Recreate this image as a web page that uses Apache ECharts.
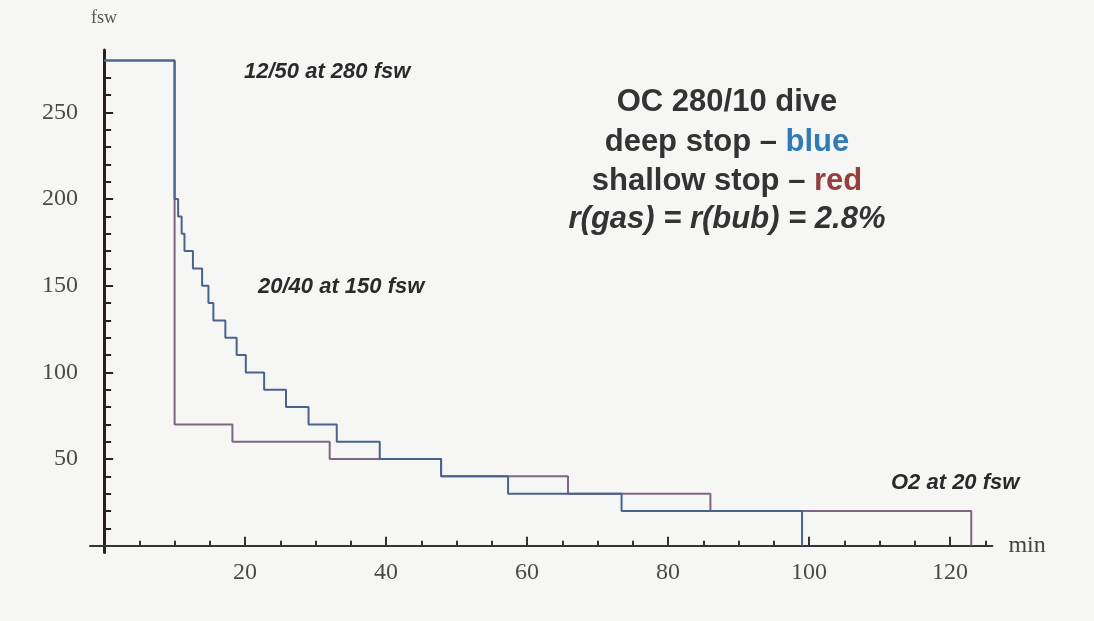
<!DOCTYPE html>
<html>
<head>
<meta charset="utf-8">
<script src="https://cdn.jsdelivr.net/npm/echarts@6/dist/echarts.min.js"></script>
<style>
html,body{margin:0;padding:0;background:#f6f6f5;}
#chart{width:1094px;height:621px;}
</style>
</head>
<body>
<div id="chart"></div>
<script>
// Deep stop profile (blue): time (min) at which each depth (fsw) begins
const deepTimes  = [0, 10, 10.5, 11, 11.4, 12.6, 13.9, 14.8, 15.5, 17.2, 18.8, 20.1, 22.7, 25.8, 29.0, 33.0, 39.1, 47.8, 57.3, 73.4, 99.0];
const deepDepths = [280, 200, 190, 180, 170, 160, 150, 140, 130, 120, 110, 100, 90, 80, 70, 60, 50, 40, 30, 20, 0];
// Shallow stop profile (red)
const shallowTimes  = [0, 10, 18.2, 32.0, 47.8, 65.8, 86.0, 123.0];
const shallowDepths = [280, 70, 60, 50, 40, 30, 20, 0];

// Tick labels / tick positions
const xLabels = [20, 40, 60, 80, 100, 120];
const xMinorTicks = [5, 10, 15, 25, 30, 35, 45, 50, 55, 65, 70, 75, 85, 90, 95, 105, 110, 115, 125];
const yLabels = [50, 100, 150, 200, 250];
const yMinorTicks = [10, 20, 30, 40, 60, 70, 80, 90, 110, 120, 130, 140, 160, 170, 180, 190, 210, 220, 230, 240, 260, 270];

const annotations = [
  {text: '12/50 at 280 fsw', x: 244, y: 72},
  {text: '20/40 at 150 fsw', x: 258, y: 287},
  {text: 'O2 at 20 fsw', x: 891, y: 483}
];

const zip = (a, b) => a.map((v, i) => [v, b[i]]);

const chart = echarts.init(document.getElementById('chart'), null, {renderer: 'canvas'});

const tickFont = {fontFamily: '"Liberation Serif"', fontSize: 24, color: '#4a4a4a'};
const XMIN = -2, XMAX = 126, YMIN = -4, YMAX = 286;

const titleFont = 'bold 31px "Liberation Sans"';
const titleFontI = 'italic bold 31px "Liberation Sans"';

const option = {
  backgroundColor: '#f6f6f5',
  animation: false,
  grid: {left: 90, right: 101.6, top: 50.1, bottom: 68.4, containLabel: false},
  xAxis: [
    {
      type: 'value', min: XMIN, max: XMAX, position: 'bottom',
      name: 'min', nameLocation: 'end', nameGap: 16,
      nameTextStyle: {fontFamily: '"Liberation Serif"', fontSize: 24, color: '#444', verticalAlign: 'middle'},
      axisLine: {show: true, onZero: true, lineStyle: {color: '#333', width: 2}},
      axisTick: {show: true, inside: true, length: 9, customValues: xLabels, lineStyle: {color: '#333', width: 2}},
      axisLabel: Object.assign({show: true, customValues: xLabels, margin: 8}, tickFont),
      splitLine: {show: false}
    },
    {
      type: 'value', min: XMIN, max: XMAX, position: 'bottom',
      axisLine: {show: false, onZero: true},
      axisTick: {show: true, inside: true, length: 5, customValues: xMinorTicks, lineStyle: {color: '#333', width: 2}},
      axisLabel: {show: false},
      splitLine: {show: false}
    }
  ],
  yAxis: [
    {
      type: 'value', min: YMIN, max: YMAX, position: 'left',
      name: 'fsw', nameLocation: 'end', nameGap: 23,
      nameTextStyle: {fontFamily: '"Liberation Serif"', fontSize: 18, color: '#555', align: 'center'},
      axisLine: {show: true, onZero: true, lineStyle: {color: '#2b1f1f', width: 3}},
      axisTick: {show: true, inside: true, length: 9, customValues: yLabels, lineStyle: {color: '#2b1f1f', width: 2}},
      axisLabel: Object.assign({show: true, customValues: yLabels, margin: 12}, tickFont),
      splitLine: {show: false}
    },
    {
      type: 'value', min: YMIN, max: YMAX, position: 'left',
      axisLine: {show: false, onZero: true},
      axisTick: {show: true, inside: true, length: 7, customValues: yMinorTicks, lineStyle: {color: '#2b1f1f', width: 2}},
      axisLabel: {show: false},
      splitLine: {show: false}
    }
  ],
  series: [
    {
      name: 'shallow stop', type: 'line', step: 'end', xAxisIndex: 0, yAxisIndex: 0,
      data: zip(shallowTimes, shallowDepths), showSymbol: false, symbol: 'none',
      lineStyle: {color: '#7c6682', width: 2}
    },
    {
      name: 'deep stop', type: 'line', step: 'end', xAxisIndex: 0, yAxisIndex: 0,
      data: zip(deepTimes, deepDepths), showSymbol: false, symbol: 'none',
      lineStyle: {color: '#48648a', width: 2}
    }
  ],
  graphic: [
    ...annotations.map(a => ({
      type: 'text', x: a.x, y: a.y, silent: true,
      style: {text: a.text, font: 'italic bold 22px "Liberation Sans"', fill: '#2a2a2a', align: 'left', verticalAlign: 'middle'}
    })),
    {
      type: 'text', x: 727, y: 102, silent: true,
      style: {text: 'OC 280/10 dive', font: titleFont, fill: '#333', align: 'center', verticalAlign: 'middle'}
    },
    {
      type: 'text', x: 727, y: 142, silent: true,
      style: {
        text: '{a|deep stop – }{b|blue}', font: titleFont, align: 'center', verticalAlign: 'middle',
        rich: {a: {font: titleFont, fill: '#333'}, b: {font: titleFont, fill: '#2f7ab8'}}
      }
    },
    {
      type: 'text', x: 727, y: 181, silent: true,
      style: {
        text: '{a|shallow stop – }{b|red}', font: titleFont, align: 'center', verticalAlign: 'middle',
        rich: {a: {font: titleFont, fill: '#333'}, b: {font: titleFont, fill: '#963f3f'}}
      }
    },
    {
      type: 'text', x: 727, y: 219, silent: true,
      style: {text: 'r(gas) = r(bub) = 2.8%', font: titleFontI, fill: '#333', align: 'center', verticalAlign: 'middle'}
    }
  ]
};

chart.setOption(option);
</script>
</body>
</html>
